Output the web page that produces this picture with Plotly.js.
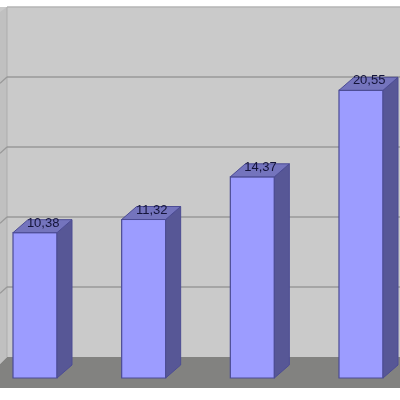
<!DOCTYPE html>
<html>
<head>
<meta charset="utf-8">
<script src="https://cdn.plot.ly/plotly-3.0.1.min.js"></script>
<style>html,body{margin:0;padding:0;background:#fff}#c{width:400px;height:400px;filter:blur(0.7px)}</style>
</head>
<body>
<div id="c"></div>
<script>
var categories = [0, 1, 2, 3];
var values = [10.38, 11.32, 14.37, 20.55];
var labels = ["10,38", "11,32", "14,37", "20,55"];
var gridValues = [5, 10, 15, 20];

var halfW = 0.2025, depthX = 0.138, depthY = 0.93, wallLift = 1.5;
var outline = "#4c4c94";

var traces = [{
  type: "bar", x: categories, y: values, width: halfW * 2,
  marker: {color: "#9c9cff", line: {color: outline, width: 1.2}},
  hoverinfo: "skip", showlegend: false
}];
categories.forEach(function (c, i) {
  var v = values[i], r = c + halfW, l = c - halfW;
  traces.push({
    type: "scatter", mode: "lines", fill: "toself", fillcolor: "#575796",
    x: [r, r + depthX, r + depthX, r, r], y: [0, depthY, v + depthY, v, 0],
    line: {color: outline, width: 1}, hoverinfo: "skip", showlegend: false
  });
  traces.push({
    type: "scatter", mode: "lines", fill: "toself", fillcolor: "#7474bd",
    x: [l, l + depthX, r + depthX, r, l], y: [v, v + depthY, v + depthY, v, v],
    line: {color: outline, width: 1}, hoverinfo: "skip", showlegend: false
  });
});
traces.push({
  type: "scatter", mode: "text",
  x: categories.map(function (c) { return c + 0.075; }),
  y: values.map(function (v) { return v + 0.66; }),
  text: labels, textposition: "middle center",
  textfont: {family: "Liberation Sans, Arial, sans-serif", size: 13, color: "#14143a"},
  hoverinfo: "skip", showlegend: false
});

var shapes = [
  {type: "rect", xref: "paper", yref: "paper", layer: "below", x0: 0, x1: 1, y0: 0.1075, y1: 0.9825,
   fillcolor: "#cacaca", line: {width: 0}},
  {type: "path", xref: "paper", yref: "paper", layer: "below",
   path: "M 0 0.97 L 0.0175 0.9825 L 0.0175 0.1075 L 0 0.09 Z", fillcolor: "#c0c0c0", line: {width: 0}},
  {type: "path", xref: "paper", yref: "paper", layer: "below",
   path: "M 0.0175 0.1075 L 1 0.1075 L 1 0.03 L 0 0.03 L 0 0.09 Z", fillcolor: "#828280", line: {width: 0}},
  {type: "line", xref: "paper", yref: "paper", layer: "below", x0: 0.0175, x1: 1, y0: 0.9825, y1: 0.9825,
   line: {color: "#b4b4b4", width: 1.5}},
  {type: "line", xref: "paper", yref: "paper", layer: "below", x0: 0.0175, x1: 0.0175, y0: 0.1075, y1: 0.9825,
   line: {color: "#adadad", width: 1}}
];
gridValues.forEach(function (g) {
  shapes.push({type: "line", xref: "paper", yref: "y", layer: "below", x0: 0.0175, x1: 1,
    y0: g + wallLift, y1: g + wallLift, line: {color: "#989898", width: 1.3}});
  shapes.push({type: "line", xref: "paper", yref: "y", layer: "below", x0: 0, x1: 0.0175,
    y0: g + wallLift - 0.45, y1: g + wallLift, line: {color: "#989898", width: 1.3}});
});

var layout = {
  width: 400, height: 400, margin: {l: 0, r: 0, t: 0, b: 0},
  paper_bgcolor: "#ffffff", plot_bgcolor: "rgba(0,0,0,0)",
  showlegend: false, barmode: "overlay",
  xaxis: {visible: false, range: [-0.3221, 3.3589], fixedrange: true},
  yaxis: {visible: false, range: [-1.5714, 27], fixedrange: true},
  shapes: shapes
};
Plotly.newPlot("c", traces, layout, {displayModeBar: false, staticPlot: true});
</script>
</body>
</html>
